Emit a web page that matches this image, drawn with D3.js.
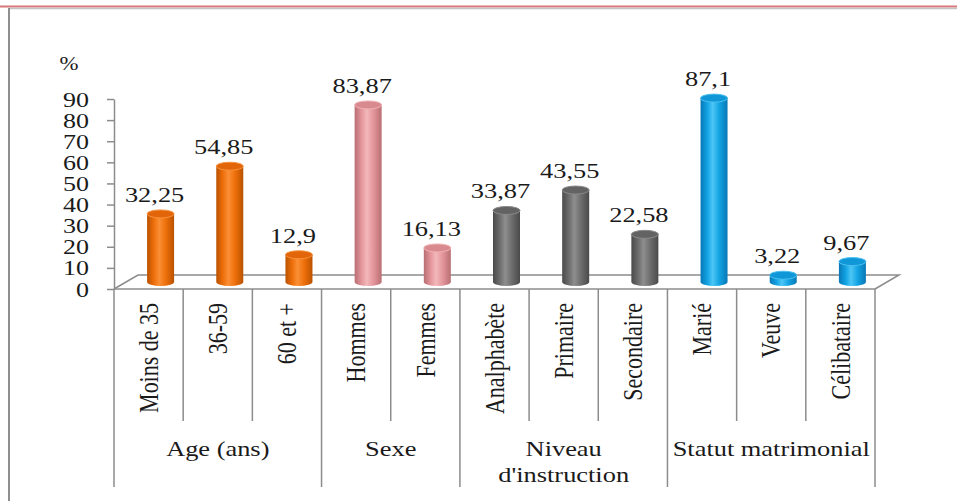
<!DOCTYPE html>
<html>
<head>
<meta charset="utf-8">
<script src="https://cdn.jsdelivr.net/npm/d3@7"></script>
<style>
  html, body { margin: 0; padding: 0; background: #fff; }
  svg { display: block; }
  text { font-family: "Liberation Serif", "Times New Roman", serif; fill: #1a1a1a; }
</style>
</head>
<body>
<svg id="chart" width="957" height="501"></svg>
<script>
// Categories, grouped by characteristic
const categories = ["Moins de 35", "36-59", "60 et +", "Hommes", "Femmes",
  "Analphabète", "Primaire", "Secondaire", "Marié", "Veuve", "Célibataire"];
const values = [32.25, 54.85, 12.9, 83.87, 16.13, 33.87, 43.55, 22.58, 87.1, 3.22, 9.67];
const valueLabels = ["32,25", "54,85", "12,9", "83,87", "16,13", "33,87", "43,55", "22,58", "87,1", "3,22", "9,67"];
const groupNames = [["Age (ans)"], ["Sexe"], ["Niveau", "d'instruction"], ["Statut matrimonial"]];
const groupSizes = [3, 2, 3, 3];
const groupPalettes = ["orange", "pink", "gray", "blue"];
const yTicks = [0, 10, 20, 30, 40, 50, 60, 70, 80, 90];

const svg = d3.select("#chart");
const SX = 1.2;          // horizontal stretch of the lettering
const DX = 24, DY = -14; // depth of the floor

// Outer frame
svg.append("line").attr("x1", 0).attr("x2", 957).attr("y1", 6.5).attr("y2", 6.5)
  .attr("stroke", "#d8787a").attr("stroke-width", 2);
svg.append("line").attr("x1", 8).attr("x2", 957).attr("y1", 8.5).attr("y2", 8.5)
  .attr("stroke", "#c4c4c4").attr("stroke-width", 1.5);
svg.append("line").attr("x1", 9).attr("x2", 9).attr("y1", 8).attr("y2", 501)
  .attr("stroke", "#8f8f8f").attr("stroke-width", 2);

const x = d3.scaleBand().domain(categories).range([114, 875]).padding(0);
const y = d3.scaleLinear().domain([0, 90]).range([289, 99]);

// Gradients for the cylinders
const palettes = {
  orange: { dark: "#b95200", mid: "#ee6f0a", light: "#fb8f35", top: "#e2650a", rim: "#f7923e" },
  pink:   { dark: "#b86e72", mid: "#e3959a", light: "#f3b8bb", top: "#d98a8f", rim: "#f0b2b5" },
  gray:   { dark: "#4a4a4a", mid: "#6d6d6d", light: "#8e8e8e", top: "#636363", rim: "#8a8a8a" },
  blue:   { dark: "#0878b5", mid: "#12a2e3", light: "#4cc6f5", top: "#0f97d8", rim: "#4dc0f0" }
};
const defs = svg.append("defs");
Object.entries(palettes).forEach(([k, p]) => {
  const g = defs.append("linearGradient").attr("id", "body-" + k)
    .attr("x1", "0%").attr("x2", "100%").attr("y1", "0%").attr("y2", "0%");
  g.append("stop").attr("offset", "0%").attr("stop-color", p.dark);
  g.append("stop").attr("offset", "25%").attr("stop-color", p.mid);
  g.append("stop").attr("offset", "45%").attr("stop-color", p.light);
  g.append("stop").attr("offset", "70%").attr("stop-color", p.mid);
  g.append("stop").attr("offset", "100%").attr("stop-color", p.dark);
});

const gridColor = "#8c8c8c";

// Floor
const floor = svg.append("g").attr("stroke", gridColor).attr("stroke-width", 1.5).attr("fill", "none");
floor.append("path").attr("d",
  `M${x.range()[0]},${y(0)} L${x.range()[0] + DX},${y(0) + DY} L${x.range()[1] + DX},${y(0) + DY} L${x.range()[1]},${y(0)}`);

// Y axis
const yAxis = svg.append("g").attr("transform", "translate(114,0)")
  .call(d3.axisLeft(y).tickValues(yTicks).tickSize(7).tickSizeOuter(0).tickFormat(d3.format("d")));
yAxis.select(".domain").attr("stroke", gridColor).attr("stroke-width", 1.5);
yAxis.selectAll(".tick line").attr("stroke", gridColor).attr("stroke-width", 1.5);
yAxis.selectAll(".tick text")
  .attr("x", null).attr("dy", "0.35em")
  .attr("transform", `translate(-25,0) scale(1.3,1)`)
  .attr("font-size", 20).attr("font-family", "Liberation Serif").attr("fill", "#1a1a1a");

svg.append("text").attr("transform", `translate(69,70) scale(${SX},1)`)
  .attr("text-anchor", "middle").attr("font-size", 19).text("%");

// Category axis: baseline, separators and labels
const cat = svg.append("g").attr("stroke", gridColor).attr("stroke-width", 1.5);
cat.append("line").attr("x1", x.range()[0]).attr("x2", x.range()[1]).attr("y1", y(0)).attr("y2", y(0));

const groupStarts = [];
let acc = 0;
groupSizes.forEach(n => { groupStarts.push(acc); acc += n; });
const boundaries = d3.range(categories.length + 1);
boundaries.forEach(i => {
  const xx = i < categories.length ? x(categories[i]) : x.range()[1];
  const isGroupEdge = i === categories.length || groupStarts.includes(i);
  cat.append("line").attr("x1", xx).attr("x2", xx)
    .attr("y1", y(0)).attr("y2", isGroupEdge ? 487 : 421);
});

svg.append("g").selectAll("text").data(categories).join("text")
  .attr("transform", d => `translate(${x(d) + x.bandwidth() / 2},303) scale(${SX},1) rotate(-90)`)
  .attr("text-anchor", "end").attr("dy", "0.35em").attr("font-size", 22)
  .text(d => d);

svg.append("g").selectAll("text").data(groupNames).join("text")
  .attr("transform", (d, i) => {
    const a = x(categories[groupStarts[i]]);
    const b = a + groupSizes[i] * x.bandwidth();
    return `translate(${(a + b) / 2},456) scale(${SX},1)`;
  })
  .attr("text-anchor", "middle").attr("font-size", 22)
  .selectAll("tspan").data(d => d).join("tspan")
  .attr("x", 0).attr("y", (d, j) => j * 26).text(d => d);

// Cylinders
const paletteOf = i => {
  let g = 0;
  while (g + 1 < groupStarts.length && i >= groupStarts[g + 1]) g++;
  return groupPalettes[g];
};
const W = 27, RY = 4;
const bars = svg.append("g").selectAll("g").data(values).join("g");
bars.each(function (v, i) {
  const p = paletteOf(i);
  const pal = palettes[p];
  const cx = x(categories[i]) + x.bandwidth() / 2 + DX / 2;
  const base = y(0) + DY / 2;
  const top = y(v) + DY / 2;
  const l = cx - W / 2, r = cx + W / 2;
  const g = d3.select(this);
  g.append("path")
    .attr("d", `M${l},${top} L${l},${base} A${W / 2},${RY} 0 0 0 ${r},${base} L${r},${top} Z`)
    .attr("fill", `url(#body-${p})`);
  g.append("ellipse").attr("cx", cx).attr("cy", top).attr("rx", W / 2).attr("ry", RY)
    .attr("fill", pal.top).attr("stroke", pal.rim).attr("stroke-width", 1);
  svg.append("text")
    .attr("transform", `translate(${x(categories[i]) + x.bandwidth() / 2 + DX / 4},${top - 12}) scale(${SX},1)`)
    .attr("text-anchor", "middle").attr("font-size", 22)
    .text(valueLabels[i]);
});
</script>
</body>
</html>
